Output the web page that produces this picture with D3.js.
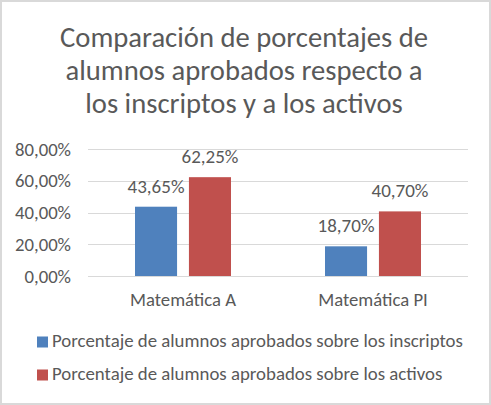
<!DOCTYPE html>
<html>
<head>
<meta charset="utf-8">
<script src="https://cdn.jsdelivr.net/npm/d3@7"></script>
<style>
  body { margin: 0; background: #fff; }
  text { font-family: Carlito, Lato, "Open Sans", sans-serif; fill: #595959; }
</style>
</head>
<body>
<script>
// chart data
var categories = ["Matemática A", "Matemática PI"];
var seriesNames = ["Porcentaje de alumnos aprobados sobre los inscriptos",
                   "Porcentaje de alumnos aprobados sobre los activos"];
var inscriptos = [0.4365, 0.1870];
var activos = [0.6225, 0.4070];
var yTicks = [0, 0.2, 0.4, 0.6, 0.8];
var titleLines = ["Comparación de porcentajes de",
                  "alumnos aprobados respecto a",
                  "los inscriptos y a los activos"];

var colors = ["#4F81BD", "#C0504D"];
var w = 491;
var h = 405;

// percent with comma decimal
var locale = d3.formatLocale({decimal: ",", thousands: ".", grouping: [3], currency: ["", "€"]});
var pct = locale.format(".2%");

var svg = d3.select("body")
            .append("svg")
            .attr("width", w)
            .attr("height", h);

// scale the font of a group so one sample text gets the wanted width
function fitFont(sel, sample, width) {
  var probe = svg.append("text").style("font-size", "20px").text(sample);
  var len = probe.node().getComputedTextLength();
  probe.remove();
  sel.style("font-size", (20 * width / len) + "px");
}

// outer border
svg.append("rect")
   .attr("x", 1)
   .attr("y", 1)
   .attr("width", w - 2)
   .attr("height", h - 2)
   .attr("fill", "#fff")
   .attr("stroke", "#d9d9d9")
   .attr("stroke-width", 2);

// title
var title = svg.selectAll(".title")
   .data(titleLines)
   .enter()
   .append("text")
   .attr("class", "title")
   .attr("x", 244)
   .attr("y", function(d, i) { return 47 + i * 33; })
   .attr("text-anchor", "middle")
   .text(function(d) { return d; });
fitFont(title, titleLines[0], 368);

// scales
var x0 = d3.scaleBand()
           .domain(categories)
           .range([88, 468]);
var x1 = d3.scaleBand()
           .domain([0, 1])
           .range([47, 143])
           .paddingInner(0.22);
var y = d3.scaleLinear()
          .domain([0, 0.8])
          .range([276, 149]);

// gridlines
svg.append("g")
   .selectAll("line")
   .data(yTicks)
   .enter()
   .append("line")
   .attr("x1", 88)
   .attr("x2", 468)
   .attr("y1", function(d) { return Math.round(y(d)) + 0.5; })
   .attr("y2", function(d) { return Math.round(y(d)) + 0.5; })
   .attr("stroke", "#d9d9d9");

// y axis labels
var yAxis = svg.append("g")
               .attr("transform", "translate(80,0)")
               .call(d3.axisLeft(y).tickValues(yTicks).tickFormat(pct).tickSize(0).tickPadding(9));
yAxis.select(".domain").remove();
yAxis.selectAll("text").attr("fill", "#595959");
fitFont(yAxis.selectAll("text"), "80,00%", 56);

// bars
var rows = categories.map(function(c, i) {
  return {cat: c, values: [inscriptos[i], activos[i]]};
});

var groups = svg.selectAll(".grp")
                .data(rows)
                .enter()
                .append("g")
                .attr("transform", function(d) { return "translate(" + x0(d.cat) + ",0)"; });

groups.selectAll("rect")
      .data(function(d) { return d.values; })
      .enter()
      .append("rect")
      .attr("x", function(d, i) { return x1(i); })
      .attr("y", function(d) { return y(d); })
      .attr("width", x1.bandwidth())
      .attr("height", function(d) { return y(0) - y(d); })
      .attr("fill", function(d, i) { return colors[i]; });

// data labels
var labels = groups.selectAll(".lbl")
      .data(function(d) { return d.values; })
      .enter()
      .append("text")
      .attr("class", "lbl")
      .attr("x", function(d, i) { return x1(i) + x1.bandwidth() / 2; })
      .attr("y", function(d) { return y(d) - 14; })
      .attr("text-anchor", "middle")
      .text(function(d) { return pct(d); });
fitFont(labels, "62,25%", 57);

// category labels
var xAxis = svg.append("g")
               .attr("transform", "translate(0,276)")
               .call(d3.axisBottom(x0).tickSize(0).tickPadding(0));
xAxis.select(".domain").remove();
xAxis.selectAll("text")
     .attr("fill", "#595959")
     .attr("dy", null)
     .attr("y", 30);
fitFont(xAxis.selectAll("text"), categories[0], 106);

// legend
var legend = svg.selectAll(".leg")
                .data(seriesNames)
                .enter()
                .append("g")
                .attr("transform", function(d, i) { return "translate(37," + (347 + i * 33) + ")"; });

legend.append("rect")
      .attr("x", 0)
      .attr("y", -10.5)
      .attr("width", 11)
      .attr("height", 11)
      .attr("fill", function(d, i) { return colors[i]; });

var legText = legend.append("text")
      .attr("x", 15)
      .attr("y", 0)
      .text(function(d) { return d; });
fitFont(legText, seriesNames[0], 411);
</script>
</body>
</html>
